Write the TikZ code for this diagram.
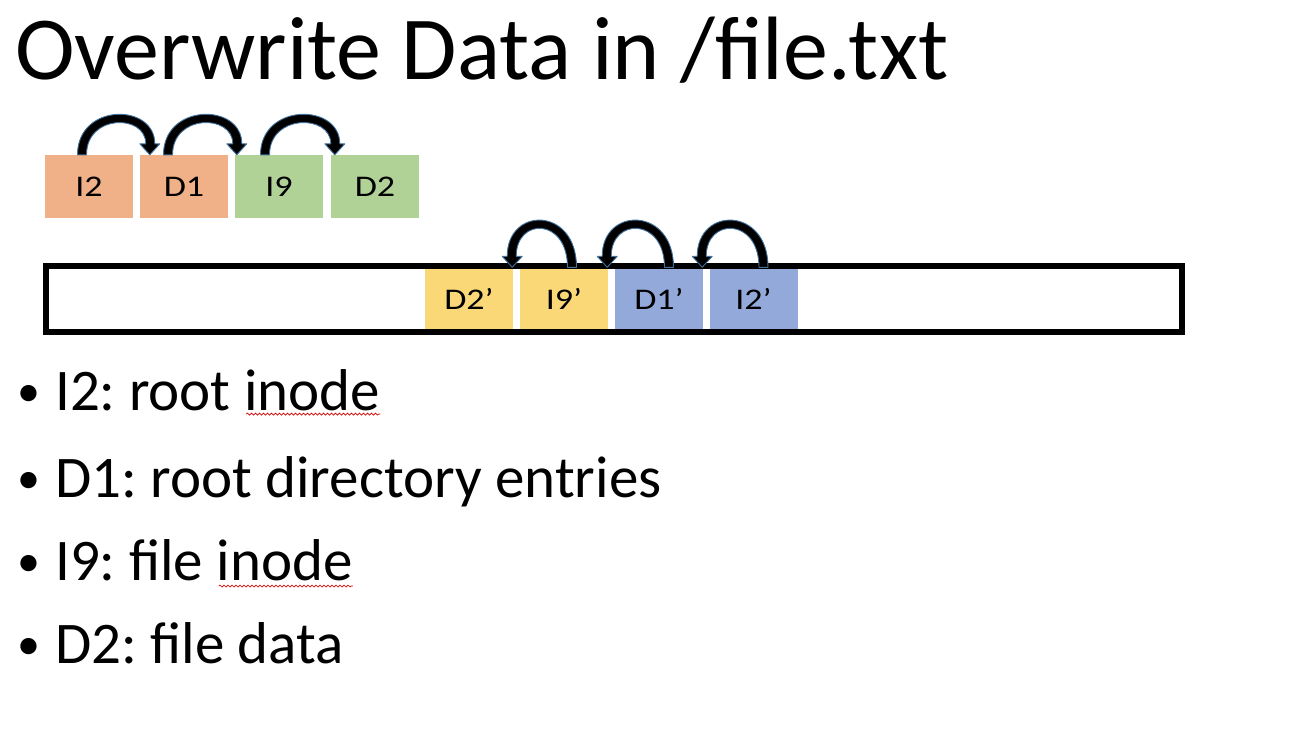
\documentclass[tikz,border=0pt]{standalone}
\usepackage{fontspec}
\setmainfont{Carlito}
\frenchspacing
\usetikzlibrary{calc,decorations.pathmorphing}
\definecolor{boxorange}{HTML}{F0B088}
\definecolor{boxgreen}{HTML}{B0D296}
\definecolor{boxyellow}{HTML}{FAD878}
\definecolor{boxblue}{HTML}{92A9DA}
\definecolor{arrline}{HTML}{41719C}
\newcommand\curvarrow[3]{%
  \fill[arrshape] let \p1=#1, \p2=#2, \n1={\x2-\x1}, \n2={sign(\n1)} in
  ({\x1-\n2*4.5pt},\y1) .. controls ({\x1-\n2*4.5pt},{\y1+#3}) and ({\x2+\n2*5pt},{\y1+#3}) ..
  ({\x2+\n2*5pt},{\y1+11pt}) -- ({\x2+\n2*10pt},{\y1+11pt}) -- (\x2,\y2) --
  ({\x2-\n2*10pt},{\y1+11pt}) -- ({\x2-\n2*4pt},{\y1+11pt}) .. controls
  ({\x2-\n2*4pt},{\y1+#3-11pt}) and ({\x1+\n2*4.5pt},{\y1+#3-11pt}) .. ({\x1+\n2*4.5pt},\y1) -- cycle;}
\newcommand\wide[1]{\raisebox{-3pt}{\scalebox{1.2}[1]{#1}}}
\newcommand\bul{\makebox[38pt][l]{\fontsize{46}{46}\selectfont\raisebox{4pt}{•}}}
\begin{document}
\begin{tikzpicture}[x=1pt,y=-1pt,
  blk/.style={minimum width=88pt, inner sep=0pt, font=\fontsize{30}{30}\selectfont},
  toprow/.style={blk, minimum height=63pt},
  botrow/.style={blk, minimum height=60pt},
  arrshape/.style={fill=black, draw=arrline, line width=0.9pt, line join=round},
  bullet/.style={anchor=base west, inner sep=0pt, font=\fontsize{59}{59}\selectfont},
  squig/.style={draw=red!85!black, line width=0.7pt, decorate,
    decoration={snake, segment length=4pt, amplitude=1pt}}]
\useasboundingbox (0,0) rectangle (1300,740);
% title
\node[anchor=base west, inner sep=0pt, font=\fontsize{90}{90}\selectfont] (title) at (15,79) {Overwrite Data in /file.txt};
% top row
\node[toprow, fill=boxorange] (I2) at (89,186.5) {\wide{I2}};
\node[toprow, fill=boxorange] (D1) at (184,186.5) {\wide{D1}};
\node[toprow, fill=boxgreen] (I9) at (279,186.5) {\wide{I9}};
\node[toprow, fill=boxgreen] (D2) at (375,186.5) {\wide{D2}};
% disk
\node[draw, line width=6pt, minimum width=1136pt, minimum height=65.5pt, inner sep=0pt] (disk) at (614,298.75) {};
\node[botrow, fill=boxyellow] (D2p) at (469,298.5) {\wide{D2’}};
\node[botrow, fill=boxyellow] (I9p) at (564,298.5) {\wide{I9’}};
\node[botrow, fill=boxblue] (D1p) at (659,298.5) {\wide{D1’}};
\node[botrow, fill=boxblue] (I2p) at (753.5,298.5) {\wide{I2’}};
% top arrows
\curvarrow{($(I2.north)+(-7,0)$)}{($(D1.north west)+(10,0)$)}{52pt}
\curvarrow{($(D1.north)+(-16,0)$)}{($(I9.north west)+(2,0)$)}{52pt}
\curvarrow{($(I9.north)+(-14,0)$)}{($(D2.north west)+(4,0)$)}{52pt}
% bottom arrows
\curvarrow{($(I9p.north)+(8,-1)$)}{($(D2p.north east)+(-1,-1)$)}{61pt}
\curvarrow{($(D1p.north)+(10,-1)$)}{($(I9p.north east)+(-1,-1)$)}{61pt}
\curvarrow{($(I2p.north)+(10,-1)$)}{($(D1p.north east)+(-1,-1)$)}{61pt}
% bullets
\node[bullet] (b1) at (17,410) {\bul I2: root inode};
\node[bullet] (b2) at (17,497) {\bul D1: root directory entries};
\node[bullet] (b3) at (17,580) {\bul I9: file inode};
\node[bullet] (b4) at (17,663) {\bul D2: file data};
\draw[squig] ($(b1.base east)+(-134,4)$) -- ($(b1.base east)+(0,4)$);
\draw[squig] ($(b3.base east)+(-134,6)$) -- ($(b3.base east)+(0,6)$);
\end{tikzpicture}
\end{document}
